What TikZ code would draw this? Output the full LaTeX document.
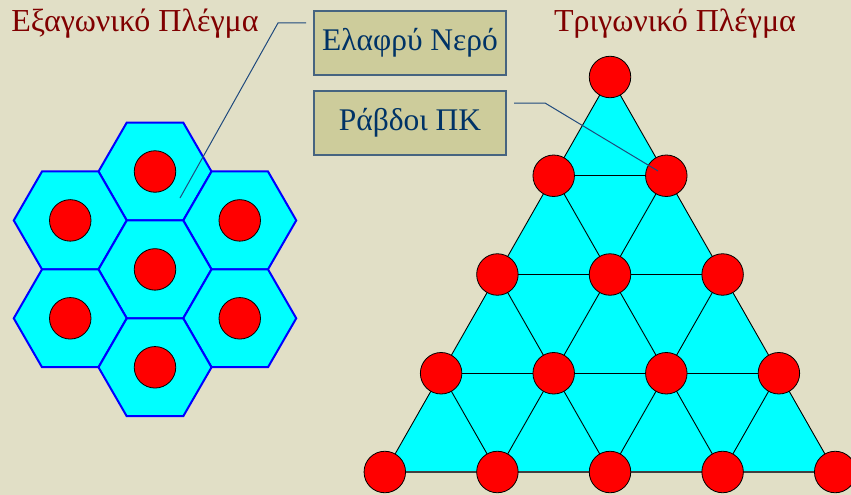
\documentclass[tikz,border=0pt]{standalone}
\usepackage{fontspec}
\setmainfont{Liberation Serif}
\usetikzlibrary{shapes.geometric}
\definecolor{bg}{RGB}{225,223,198}
\definecolor{titlered}{RGB}{128,0,0}
\definecolor{boxfill}{RGB}{205,204,155}
\definecolor{boxborder}{RGB}{70,100,128}
\definecolor{boxtext}{RGB}{0,51,102}
\definecolor{callout}{RGB}{31,73,125}
\definecolor{hexblue}{RGB}{0,0,255}
\definecolor{aqua}{RGB}{0,255,255}
\tikzset{
  hexcell/.style={regular polygon, regular polygon sides=6, minimum size=113pt,
    inner sep=0pt, outer sep=0pt, draw=hexblue, line width=2pt, fill=aqua},
  rod/.style={circle, minimum size=41.5pt, inner sep=0pt, fill=red, draw=black, line width=0.8pt},
  title/.style={text=titlered, font=\fontsize{32}{32}\selectfont, anchor=base, inner sep=0pt},
  label box/.style={draw=boxborder, line width=1.5pt, fill=boxfill, text=boxtext,
    minimum width=192pt, minimum height=64pt, inner sep=0pt, font=\fontsize{31.5}{31.5}\selectfont},
  lattice/.style={draw=black, line width=0.9pt},
  calloutline/.style={draw=callout, line width=1pt}
}
\begin{document}
\begin{tikzpicture}[x=1pt,y=-1pt]
\useasboundingbox (0,0) rectangle (851,495);
\clip (0,0) rectangle (851,495);
\fill[bg] (0,0) rectangle (851,495);

% titles
\node[title] (t1) at (135,32) {Εξαγωνικό Πλέγμα};
\node[title] (t2) at (675,32) {Τριγωνικό Πλέγμα};

% hexagonal lattice
\foreach \n/\x/\y in {a/155/171.5, b/70.25/220.4, c/239.75/220.4, d/155/269.4, e/70.25/318.3, f/239.75/318.3, g/155/367.3}{
  \node[hexcell] (hex-\n) at (\x,\y) {};
}
\foreach \n in {a,b,c,d,e,f,g}{
  \node[rod] (hr-\n) at (hex-\n.center) {};
}

% triangular lattice coordinates
\foreach \r in {0,...,4}{
  \foreach \k in {0,...,\r}{
    \pgfmathsetmacro{\xx}{610+(\k-\r/2)*112.6}
    \pgfmathsetmacro{\yy}{77+\r*98.75}
    \coordinate (t-\r-\k) at (\xx,\yy);
  }
}
\fill[aqua] (t-0-0) -- (t-4-0) -- (t-4-4) -- cycle;
\foreach \r in {1,...,4}{
  \foreach \k in {1,...,\r}{
    \pgfmathtruncatemacro{\kp}{\k-1}
    \draw[lattice] (t-\r-\kp) -- (t-\r-\k);
  }
}
\foreach \r in {0,...,3}{
  \pgfmathtruncatemacro{\rn}{\r+1}
  \foreach \k in {0,...,\r}{
    \pgfmathtruncatemacro{\kn}{\k+1}
    \draw[lattice] (t-\r-\k) -- (t-\rn-\k);
    \draw[lattice] (t-\r-\k) -- (t-\rn-\kn);
  }
}
\draw[draw=black!75, line width=1.4pt] (t-4-0) -- (t-4-4);
\foreach \r in {0,...,4}{
  \foreach \k in {0,...,\r}{
    \node[rod] (tr-\r-\k) at (t-\r-\k) {};
  }
}

% labels
\node[label box] (water) at (410,43) {Ελαφρύ Νερό};
\node[label box] (rods) at (410,123) {Ράβδοι ΠΚ};

% callouts
\coordinate (a1) at (306,23);
\coordinate (b1) at (278,23);
\coordinate (e1) at (180,198);
\draw[calloutline] (a1) -- (b1) -- (e1);
\coordinate (a2) at (514,103);
\coordinate (b2) at (545,103);
\coordinate (e2) at (658,171);
\draw[calloutline] (a2) -- (b2) -- (e2);
\end{tikzpicture}
\end{document}
